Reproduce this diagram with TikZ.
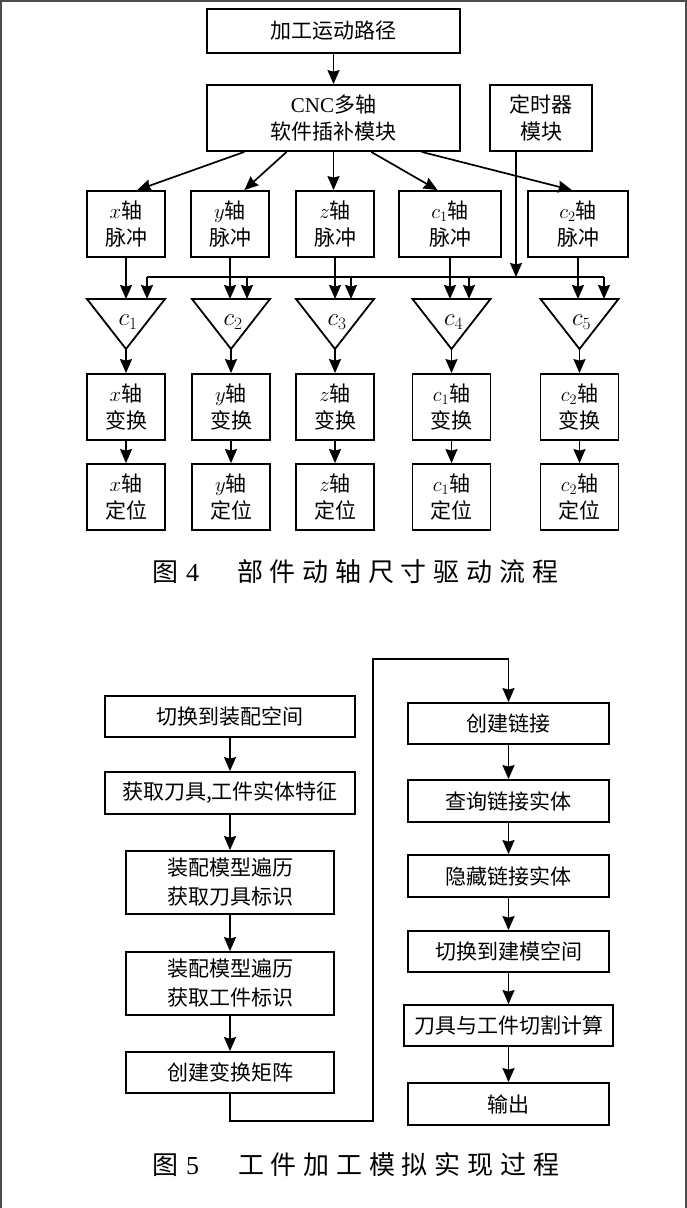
\documentclass[tikz,border=0pt]{standalone}
\usepackage{fontspec}
\setmainfont{Liberation Serif}
\newfontfamily\cjk{Noto Sans CJK SC}
\newfontfamily\capcjk[LetterSpace=26]{Noto Sans CJK SC}
\usetikzlibrary{arrows.meta,calc}
\newcommand\mytri[3]{%
  \draw[tri] (#2-39,299) -- (#2+39,299) -- (#2,349) -- cycle;
  \coordinate (#1n) at (#2,299);
  \coordinate (#1s) at (#2,349);
  \node[font=\fontsize{23}{23}\selectfont,inner sep=0pt] (#1) at (#2+2,322) {$#3$};}
\begin{document}
\begin{tikzpicture}[x=1pt,y=-1pt,
  box/.style={draw,line width=1.8pt,inner sep=0pt,align=center,font=\cjk\fontsize{21}{27}\selectfont},
  boxf/.style={draw,line width=1.8pt,inner sep=0pt,align=center,font=\cjk\fontsize{21}{29}\selectfont},
  arr/.style={line width=1.7pt,-{Stealth[length=14pt,width=12pt,inset=1.5pt]}},
  ln/.style={line width=1.7pt},
  tri/.style={draw,line width=1.8pt,line join=miter},
  scanedge/.style={draw=black!70,line width=2pt},
  captxt/.style={anchor=west,inner sep=0pt}]
\useasboundingbox (0,0) rectangle (687,1208);
% scan edges
\draw[scanedge] (0,1) -- (687,1);
\draw[scanedge] (1,0) -- (1,1208);
\draw[scanedge] (685.5,0) -- (685.5,1208);

% ---------- Figure 4 ----------
\node[box,minimum width=253pt,minimum height=44pt] (b1) at (333.5,31) {加工运动路径};
\node[box,minimum width=253pt,minimum height=66pt] (b2) at (333.5,118) {\textrm{CNC}多轴\\软件插补模块};
\node[box,minimum width=102pt,minimum height=66pt] (tm) at (541,118) {定时器\\模块};

\node[box,minimum width=78pt,minimum height=66pt] (px) at (126,224) {$x$轴\\脉冲};
\node[box,minimum width=78pt,minimum height=66pt] (py) at (230,224) {$y$轴\\脉冲};
\node[box,minimum width=78pt,minimum height=66pt] (pz) at (335,224) {$z$轴\\脉冲};
\node[box,minimum width=102pt,minimum height=66pt] (pc1) at (450,224) {$c_1$轴\\脉冲};
\node[box,minimum width=100pt,minimum height=66pt] (pc2) at (578,224) {$c_2$轴\\脉冲};

\mytri{t1}{126}{c_1}
\mytri{t2}{231}{c_2}
\mytri{t3}{335}{c_3}
\mytri{t4}{451.5}{c_4}
\mytri{t5}{579.5}{c_5}

\node[box,minimum width=78pt,minimum height=66pt] (tx) at (126,407) {$x$轴\\变换};
\node[box,minimum width=78pt,minimum height=66pt] (ty) at (231,407) {$y$轴\\变换};
\node[box,minimum width=78pt,minimum height=66pt] (tz) at (335,407) {$z$轴\\变换};
\node[box,minimum width=78pt,minimum height=66pt] (tc1) at (451.5,407) {$c_1$轴\\变换};
\node[box,minimum width=78pt,minimum height=66pt] (tc2) at (579.5,407) {$c_2$轴\\变换};

\node[box,minimum width=78pt,minimum height=66pt] (dx) at (126,497) {$x$轴\\定位};
\node[box,minimum width=78pt,minimum height=66pt] (dy) at (231,497) {$y$轴\\定位};
\node[box,minimum width=78pt,minimum height=66pt] (dz) at (335,497) {$z$轴\\定位};
\node[box,minimum width=78pt,minimum height=66pt] (dc1) at (451.5,497) {$c_1$轴\\定位};
\node[box,minimum width=78pt,minimum height=66pt] (dc2) at (579.5,497) {$c_2$轴\\定位};

\draw[arr] (b1.south) -- (b2.north);
\draw[arr] ($(b2.south west)!0.150!(b2.south east)$) -- ($(px.north west)!0.64!(px.north east)$);
\draw[arr] ($(b2.south west)!0.316!(b2.south east)$) -- ($(py.north west)!0.68!(py.north east)$);
\draw[arr] (b2.south) -- (b2.south |- pz.north);
\draw[arr] ($(b2.south west)!0.648!(b2.south east)$) -- ($(pc1.north west)!0.38!(pc1.north east)$);
\draw[arr] ($(b2.south west)!0.846!(b2.south east)$) -- ($(pc2.north west)!0.44!(pc2.north east)$);

\coordinate (bus1) at (147,277);
\coordinate (bus2) at (247,277);
\coordinate (bus3) at (351,277);
\coordinate (bus4) at (469,277);
\coordinate (bus5) at (604,277);
\coordinate (busT) at (516,277);
\draw[ln] (bus1) -- (bus5);
\draw[arr] (tm.south -| busT) -- (busT);
\draw[arr] (bus1) -- (bus1 |- t1n);
\draw[arr] (bus2) -- (bus2 |- t2n);
\draw[arr] (bus3) -- (bus3 |- t3n);
\draw[arr] (bus4) -- (bus4 |- t4n);
\draw[arr] (bus5) -- (bus5 |- t5n);

\draw[arr] (px.south) -- (px.south |- t1n);
\draw[arr] (py.south) -- (py.south |- t2n);
\draw[arr] (pz.south) -- (pz.south |- t3n);
\draw[arr] (pc1.south) -- (pc1.south |- t4n);
\draw[arr] (pc2.south) -- (pc2.south |- t5n);

\draw[arr] (t1s) -- (tx.north);
\draw[arr] (t2s) -- (ty.north);
\draw[arr] (t3s) -- (tz.north);
\draw[arr] (t4s) -- (tc1.north);
\draw[arr] (t5s) -- (tc2.north);

\draw[arr] (tx) -- (dx);
\draw[arr] (ty) -- (dy);
\draw[arr] (tz) -- (dz);
\draw[arr] (tc1) -- (dc1);
\draw[arr] (tc2) -- (dc2);

\node[captxt,font=\cjk\fontsize{26}{26}\selectfont] (cap4n) at (152,572) {图\hspace{8pt}\textrm{4}};
\node[captxt,font=\capcjk\fontsize{26}{26}\selectfont] (cap4t) at (237,572) {部件动轴尺寸驱动流程};

% ---------- Figure 5 ----------
\node[boxf,minimum width=250pt,minimum height=41pt] (a1) at (230,716.5) {切换到装配空间};
\node[boxf,minimum width=250pt,minimum height=42pt] (a2) at (230,793) {获取刀具,工件实体特征};
\node[boxf,minimum width=208pt,minimum height=63pt] (a3) at (230,882.5) {装配模型遍历\\获取刀具标识};
\node[boxf,minimum width=208pt,minimum height=63pt] (a4) at (230,983.5) {装配模型遍历\\获取工件标识};
\node[boxf,minimum width=208pt,minimum height=41pt] (a5) at (230,1072.5) {创建变换矩阵};

\node[boxf,minimum width=201pt,minimum height=41pt] (r1) at (508.5,723.5) {创建链接};
\node[boxf,minimum width=201pt,minimum height=42pt] (r2) at (508.5,801) {查询链接实体};
\node[boxf,minimum width=201pt,minimum height=42pt] (r3) at (508.5,876) {隐藏链接实体};
\node[boxf,minimum width=201pt,minimum height=41pt] (r4) at (508.5,951.5) {切换到建模空间};
\node[boxf,minimum width=209pt,minimum height=41pt] (r5) at (508.5,1025.5) {刀具与工件切割计算};
\node[boxf,minimum width=201pt,minimum height=42pt] (r6) at (508.5,1104) {输出};

\draw[arr] (a1) -- (a2);
\draw[arr] (a2) -- (a3);
\draw[arr] (a3) -- (a4);
\draw[arr] (a4) -- (a5);
\draw[arr] (r1) -- (r2);
\draw[arr] (r2) -- (r3);
\draw[arr] (r3) -- (r4);
\draw[arr] (r4) -- (r5);
\draw[arr] (r5) -- (r6);
\coordinate (k1) at (373,1121);
\coordinate (k2) at (373,659);
\draw[arr] (a5.south) |- (k1) -- (k2) -| (r1.north);

\node[captxt,font=\cjk\fontsize{26}{26}\selectfont] (cap5n) at (152,1165) {图\hspace{8pt}\textrm{5}};
\node[captxt,font=\capcjk\fontsize{26}{26}\selectfont] (cap5t) at (238,1165) {工件加工模拟实现过程};
\end{tikzpicture}
\end{document}
